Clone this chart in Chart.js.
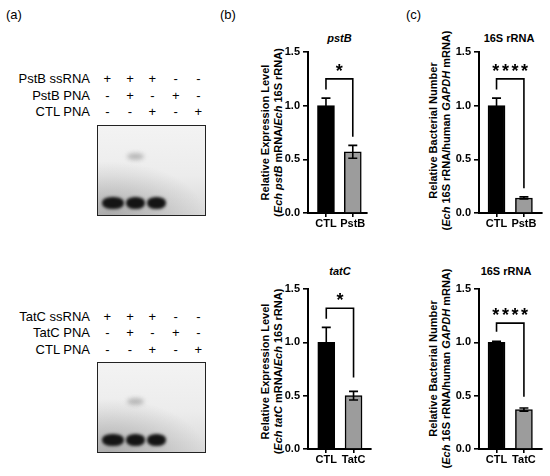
<!DOCTYPE html>
<html><head><meta charset="utf-8">
<script src="https://cdn.jsdelivr.net/npm/chart.js@4.4.0/dist/chart.umd.min.js"></script>
<style>
html,body{margin:0;padding:0;background:#fff;}
body{width:550px;height:476px;position:relative;overflow:hidden;font-family:"Liberation Sans",Arial,sans-serif;color:#000;}
.abs{position:absolute;white-space:nowrap;}
.plabel{font-size:13px;line-height:15px;}
.glabel{font-size:13px;line-height:15px;text-align:right;width:90px;}
.sign{font-size:13px;line-height:15px;width:14px;text-align:center;}
.ttl{font-size:11px;font-weight:bold;line-height:13px;text-align:center;width:80px;}
.ytitle{font-size:11px;font-weight:bold;line-height:13px;text-align:center;width:220px;transform:rotate(-90deg);transform-origin:center center;}
.gel{border:1.5px solid #222;box-sizing:border-box;overflow:hidden;
 background:radial-gradient(ellipse 90% 60% at 10% 100%, rgba(140,140,140,0.6), rgba(150,150,150,0) 100%), linear-gradient(to bottom,#f3f3f3 0%,#ececec 55%,#d9d9d9 100%);}
.band{position:absolute;border-radius:45%;background:#141414;filter:blur(1.6px);}
.shift{position:absolute;border-radius:50%;background:rgba(140,140,140,0.55);filter:blur(2px);}
canvas{position:absolute;}
</style></head>
<body>
<script>
// ---------------- DATA ----------------
const categoriesPstB = ["CTL", "PstB"];
const categoriesTatC = ["CTL", "TatC"];
const yTicks = [0, 0.5, 1.0, 1.5];

const pstbExprMean = [1.00, 0.57];
const pstbExprErr  = [0.07, 0.06];
const pstb16sMean  = [1.00, 0.14];
const pstb16sErr   = [0.07, 0.01];
const tatcExprMean = [1.00, 0.50];
const tatcExprErr  = [0.14, 0.04];
const tatc16sMean  = [1.00, 0.37];
const tatc16sErr   = [0.01, 0.015];

// significance brackets: [bracket top, left leg end, right leg end]
const sigPstbExpr = [1.25, 1.15, 0.71];
const sigPstb16s  = [1.25, 1.15, 0.23];
const sigTatcExpr = [1.32, 1.22, 0.67];
const sigTatc16s  = [1.18, 1.10, 0.49];
const starsPstbExpr = "*";
const starsPstb16s  = "****";
const starsTatcExpr = "*";
const starsTatc16s  = "****";

const gelRowsPstB = ["PstB ssRNA", "PstB PNA", "CTL PNA"];
const gelRowsTatC = ["TatC ssRNA", "TatC PNA", "CTL PNA"];
const gelSigns = [
  ["+", "+", "+", "-", "-"],
  ["-", "+", "-", "+", "-"],
  ["-", "-", "+", "-", "+"]
];
const barColors = ["#000000", "#9c9c9c"];

// ---------------- STATIC TEXT / GEL ----------------
function addDiv(cls, html, css) {
  const d = document.createElement('div');
  d.className = 'abs ' + cls;
  d.innerHTML = html;
  Object.assign(d.style, css);
  document.body.appendChild(d);
  return d;
}
addDiv('plabel', '(a)', {left: '6px', top: '7px'});
addDiv('plabel', '(b)', {left: '220px', top: '7px'});
addDiv('plabel', '(c)', {left: '406px', top: '7px'});

const signX = [107.3, 130, 152.3, 175.7, 198.3];
function buildGel(rows, rowY, box, bandY, shiftY) {
  rows.forEach((r, i) => {
    addDiv('glabel', r, {left: '0px', top: (rowY[i] - 8) + 'px'});
    gelSigns[i].forEach((s, j) => {
      addDiv('sign', s, {left: (signX[j] - 7) + 'px', top: (rowY[i] - 8) + 'px'});
    });
  });
  const g = addDiv('gel', '', {left: box[0] + 'px', top: box[1] + 'px', width: box[2] + 'px', height: box[3] + 'px'});
  const lanes = [[100.5, 22], [124.5, 19.5], [145.5, 19.5]];
  lanes.forEach(l => {
    const b = document.createElement('div');
    b.className = 'band';
    Object.assign(b.style, {left: (l[0] - box[0]) + 'px', top: (bandY - 6 - box[1]) + 'px', width: l[1] + 'px', height: '12px'});
    g.appendChild(b);
  });
  const sh = document.createElement('div');
  sh.className = 'shift';
  Object.assign(sh.style, {left: (126 - box[0]) + 'px', top: (shiftY - 3.5 - box[1]) + 'px', width: '17px', height: '7px'});
  g.appendChild(sh);
}
buildGel(gelRowsPstB, [79, 95.7, 112.3], [96.5, 124.5, 109, 91], 201.5, 155);
buildGel(gelRowsTatC, [316.7, 333.3, 350], [96.5, 362, 109, 91], 438.5, 400);

// titles
addDiv('ttl', '<i>pstB</i>', {left: (339.5 - 40) + 'px', top: (39.3 - 7) + 'px'});
addDiv('ttl', '16S rRNA', {left: (509 - 40) + 'px', top: (39.3 - 7) + 'px'});
addDiv('ttl', '<i>tatC</i>', {left: (340 - 40) + 'px', top: (272.3 - 7) + 'px'});
addDiv('ttl', '16S rRNA', {left: (506 - 40) + 'px', top: (272.3 - 7) + 'px'});

// y-axis titles (two lines each)
function yTitle(html, cx, cy) {
  addDiv('ytitle', html, {left: (cx - 110) + 'px', top: (cy - 6.5) + 'px'});
}
yTitle('Relative Expression Level', 264.5, 132.5);
yTitle('(<i>Ech pstB</i> mRNA/<i>Ech</i> 16S rRNA)', 277.5, 132.5);
yTitle('Relative Bacterial Number', 433, 130);
yTitle('(<i>Ech</i> 16S rRNA/human <i>GAPDH</i> mRNA)', 446, 130);
yTitle('Relative Expression Level', 264.5, 371);
yTitle('(<i>Ech tatC</i> mRNA/<i>Ech</i> 16S rRNA)', 277.5, 371);
yTitle('Relative Bacterial Number', 433, 368);
yTitle('(<i>Ech</i> 16S rRNA/human <i>GAPDH</i> mRNA)', 446, 368);

// ---------------- CHARTS ----------------
const errSigPlugin = {
  id: 'errSig',
  afterDatasetsDraw(chart, args, opts) {
    const ctx = chart.ctx;
    const ys = chart.scales.y, xs = chart.scales.x;
    const meta = chart.getDatasetMeta(0);
    ctx.save();
    ctx.strokeStyle = '#000';
    ctx.lineWidth = 1.6;
    meta.data.forEach((bar, i) => {
      const m = opts.means[i], e = opts.errs[i];
      const x = bar.x;
      const yTop = ys.getPixelForValue(m + e), yBot = ys.getPixelForValue(m - e);
      ctx.beginPath();
      ctx.moveTo(x, yTop); ctx.lineTo(x, yBot);
      ctx.moveTo(x - 4.5, yTop); ctx.lineTo(x + 4.5, yTop);
      ctx.moveTo(x - 4.5, yBot); ctx.lineTo(x + 4.5, yBot);
      ctx.stroke();
    });
    // bracket
    const s = opts.sig;
    const x1 = xs.getPixelForValue(1), x2 = xs.getPixelForValue(2);
    const yb = ys.getPixelForValue(s[0]);
    ctx.beginPath();
    ctx.moveTo(x1, ys.getPixelForValue(s[1]));
    ctx.lineTo(x1, yb);
    ctx.lineTo(x2, yb);
    ctx.lineTo(x2, ys.getPixelForValue(s[2]));
    ctx.stroke();
    // stars
    ctx.fillStyle = '#000';
    ctx.font = 'bold 18px "Liberation Sans", Arial, sans-serif';
    ctx.textAlign = 'center';
    ctx.textBaseline = 'alphabetic';
    const mt = ctx.measureText('*');
    const cy = yb - 11.5;
    const base = cy - (mt.actualBoundingBoxDescent - mt.actualBoundingBoxAscent) / 2;
    const n = opts.stars.length, pitch = 9.6;
    const cx = (x1 + x2) / 2;
    for (let k = 0; k < n; k++) {
      ctx.fillText('*', cx + (k - (n - 1) / 2) * pitch, base);
    }
    ctx.restore();
  }
};

const YW = 32, XH = 24, PT = 10, PR = 10;
function makeChart(area, xr, cats, means, errs, sig, stars) {
  const [L, T, R, B] = area;
  const cv = document.createElement('canvas');
  const w = Math.round(R - L + YW + PR), h = Math.round(B - T + PT + XH);
  cv.width = w; cv.height = h;
  cv.style.left = (L - YW) + 'px';
  cv.style.top = (T - PT) + 'px';
  cv.style.width = w + 'px'; cv.style.height = h + 'px';
  document.body.appendChild(cv);
  const font = {family: '"Liberation Sans", Arial, sans-serif', size: 11, weight: 'bold'};
  new Chart(cv, {
    type: 'bar',
    data: {
      datasets: [{
        data: means.map((v, i) => ({x: i + 1, y: v})),
        backgroundColor: barColors,
        borderColor: '#000',
        borderWidth: 1.5,
        barThickness: 17
      }]
    },
    options: {
      responsive: false,
      animation: false,
      devicePixelRatio: 1,
      layout: {padding: {top: PT, right: PR, left: 0, bottom: 0}},
      plugins: {legend: {display: false}, tooltip: {enabled: false}, title: {display: false},
        errSig: {means: means, errs: errs, sig: sig, stars: stars}},
      scales: {
        x: {
          type: 'linear', min: xr[0], max: xr[1], offset: false,
          afterBuildTicks: s => { s.ticks = cats.map((c, i) => ({value: i + 1})); },
          afterFit: s => { s.height = XH; },
          ticks: {callback: v => cats[v - 1], color: '#000', font: font, padding: 0, maxRotation: 0, autoSkip: false},
          grid: {display: true, drawOnChartArea: false, drawTicks: true, tickLength: 4, color: '#000', lineWidth: 1.6, offset: false},
          border: {display: true, color: '#000', width: 2}
        },
        y: {
          min: 0, max: 1.5,
          afterBuildTicks: s => { s.ticks = yTicks.map(v => ({value: v})); },
          afterFit: s => { s.width = YW; },
          ticks: {callback: v => v.toFixed(1), color: '#000', font: font, padding: 3},
          grid: {display: true, drawOnChartArea: false, drawTicks: true, tickLength: 5, color: '#000', lineWidth: 1.6},
          border: {display: true, color: '#000', width: 2}
        }
      }
    },
    plugins: [errSigPlugin]
  });
}

makeChart([308, 51.7, 367, 212.3], [0.33, 2.53], categoriesPstB, pstbExprMean, pstbExprErr, sigPstbExpr, starsPstbExpr);
makeChart([479, 51.7, 541.5, 212.3], [0.36, 2.66], categoriesPstB, pstb16sMean, pstb16sErr, sigPstb16s, starsPstb16s);
makeChart([308, 289.3, 371, 449.3], [0.33, 2.64], categoriesTatC, tatcExprMean, tatcExprErr, sigTatcExpr, starsTatcExpr);
makeChart([479, 289.3, 541.5, 449.3], [0.36, 2.66], categoriesTatC, tatc16sMean, tatc16sErr, sigTatc16s, starsTatc16s);
</script>
</body></html>
